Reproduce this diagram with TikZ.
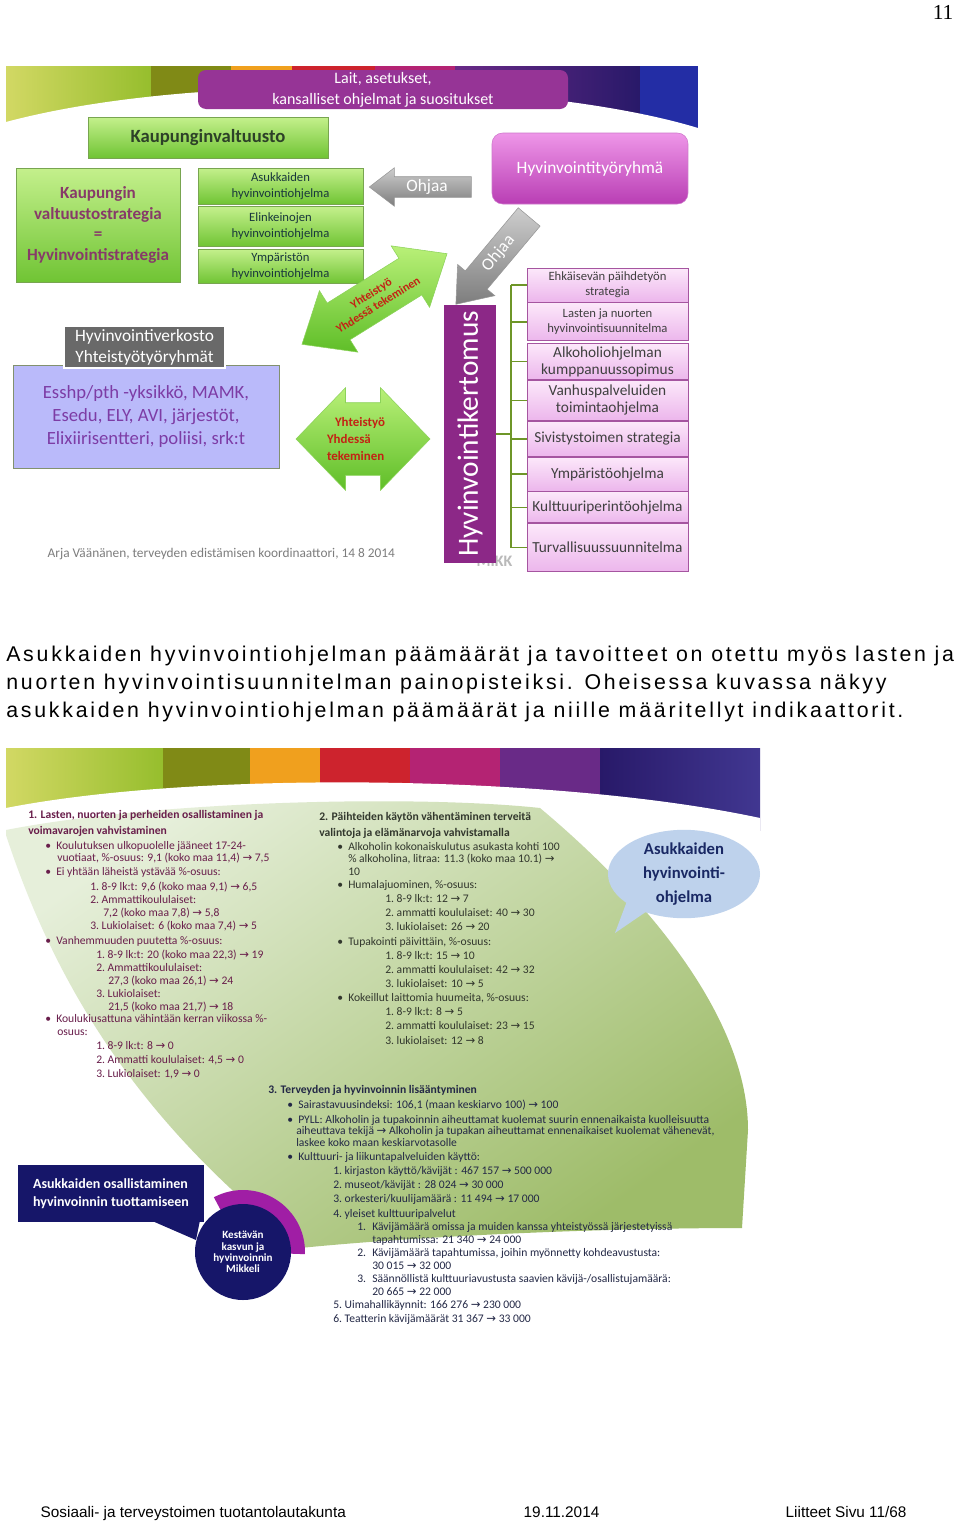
\documentclass[tikz,border=0pt]{standalone}
\usepackage{fontspec}
\setmainfont{Carlito}
\newfontfamily\parfnt[LetterSpace=13]{Liberation Sans}
\newfontfamily\arialfnt{Liberation Sans}
\newfontfamily\timesfnt{Liberation Serif}
\newfontfamily\symfnt{DejaVu Sans}
\usetikzlibrary{positioning,shapes.arrows,shapes.geometric,calc}

\definecolor{laitPurple}{RGB}{150,52,150}
\definecolor{boxTop}{RGB}{196,240,140}
\definecolor{boxBot}{RGB}{112,196,52}
\definecolor{boxLine}{RGB}{120,165,80}
\definecolor{councilText}{RGB}{45,65,40}
\definecolor{strategyText}{RGB}{135,58,105}
\definecolor{progText}{RGB}{25,55,60}
\definecolor{hvtTop}{RGB}{238,150,232}
\definecolor{hvtBot}{RGB}{185,62,180}
\definecolor{barPurple}{RGB}{140,40,135}
\definecolor{pinkTop}{RGB}{252,232,250}
\definecolor{pinkBot}{RGB}{236,182,236}
\definecolor{pinkLine}{RGB}{165,85,160}
\definecolor{treeGreen}{RGB}{110,150,40}
\definecolor{grayTop}{RGB}{205,205,205}
\definecolor{grayBot}{RGB}{125,125,125}
\definecolor{coopTop}{RGB}{185,240,120}
\definecolor{coopBot}{RGB}{95,190,40}
\definecolor{coopLine}{RGB}{140,210,90}
\definecolor{coopRed}{RGB}{195,35,20}
\definecolor{netGray}{RGB}{105,105,105}
\definecolor{lavFill}{RGB}{186,186,250}
\definecolor{lavLine}{RGB}{130,145,110}
\definecolor{lavText}{RGB}{125,60,165}
\definecolor{creditGray}{RGB}{125,125,125}
\definecolor{bandYellow}{RGB}{210,216,100}
\definecolor{bandLime}{RGB}{150,190,45}
\definecolor{bandOlive}{RGB}{128,138,22}
\definecolor{bandOrange}{RGB}{240,160,30}
\definecolor{bandRed}{RGB}{205,35,45}
\definecolor{bandMagenta}{RGB}{180,35,115}
\definecolor{bandPurple}{RGB}{105,42,135}
\definecolor{bandNavy}{RGB}{40,25,105}
\definecolor{bandBlue}{RGB}{35,45,165}
\definecolor{bandViolet}{RGB}{65,55,145}
\definecolor{fanPale}{RGB}{230,239,218}
\definecolor{fanGreen}{RGB}{158,188,105}
\definecolor{bubbleBlue}{RGB}{190,210,236}
\definecolor{navyText}{RGB}{25,40,100}
\definecolor{navyBox}{RGB}{22,22,105}
\definecolor{ringPurple}{RGB}{160,30,165}
\definecolor{goalOne}{RGB}{105,30,75}
\definecolor{goalTwo}{RGB}{50,55,45}
\definecolor{goalThree}{RGB}{35,40,70}

\newlength{\ux}\setlength{\ux}{0.75pt}
\newcommand{\goesto}{{\symfnt\char"2192}}
\newcommand{\bul}[2]{\hspace*{#1\ux}\makebox[11\ux][l]{\textbullet}#2}
\newcommand{\ind}[2]{\hspace*{#1\ux}#2}

\begin{document}
\begin{tikzpicture}[x=0.75pt, y=-0.75pt,
  greenbox/.style={draw=boxLine, top color=boxTop, bottom color=boxBot, align=center, inner sep=0pt},
  progbox/.style={greenbox, minimum width=165*\ux, minimum height=36*\ux, text=progText,
                  font=\fontsize{9.5}{12}\selectfont},
  pinkbox/.style={draw=pinkLine, line width=0.6pt, top color=pinkTop, bottom color=pinkBot,
                  minimum width=161*\ux, inner sep=0pt, align=center, text=black!75,
                  font=\fontsize{11.5}{12.75}\selectfont},
  smallpink/.style={font=\fontsize{9.5}{11.5}\selectfont},
  ohjaa/.style={single arrow, top color=grayTop, bottom color=grayBot, draw=grayBot!80,
                text=white, font=\fontsize{13}{13}\selectfont, text height=9pt, text depth=2.5pt,
                inner xsep=2pt, single arrow tip angle=75},
  coop/.style={double arrow, top color=coopTop, bottom color=coopBot, draw=coopLine,
               inner xsep=0pt},
  cooptext/.style={text=coopRed, font=\bfseries\fontsize{9}{10}\selectfont, inner sep=0pt},
  tree/.style={treeGreen, line width=1.2pt},
  goal/.style={anchor=north west, inner sep=0pt, align=left, font=\fontsize{8.7}{10.5}\selectfont},
  parline/.style={anchor=base west, inner sep=0pt, font=\parfnt\fontsize{16}{21}\selectfont},
  footer/.style={anchor=base west, font=\arialfnt\fontsize{11.5}{11.5}\selectfont}
]
\useasboundingbox (0,0) rectangle (960,1524);
\fill[white] (0,0) rectangle (960,1524);

\node[anchor=base east, font=\timesfnt\fontsize{16}{16}\selectfont] (pagenum) at (958,19) {11};

% upper slide: background band
\begin{scope}
  \clip (6,66) rectangle (698,568);
  \shade[left color=bandYellow, right color=bandLime] (6,66) rectangle (151,140);
  \fill[bandOlive] (151,66) rectangle (231,140);
  \fill[bandOrange] (231,66) rectangle (292,140);
  \fill[bandRed] (292,66) rectangle (375,140);
  \fill[bandMagenta] (375,66) rectangle (455,140);
  \shade[left color=bandPurple, right color=bandNavy] (455,66) rectangle (640,140);
  \fill[bandBlue] (640,66) rectangle (698,140);
  \fill[white] (6,122) .. controls (200,70) and (540,80) .. (698,128) -- (698,568) -- (6,568) -- cycle;
\end{scope}

\node[fill=laitPurple, rounded corners=6pt, minimum width=370*\ux, minimum height=39*\ux,
      inner sep=0pt, align=center, text=white, font=\fontsize{12}{15.75}\selectfont]
      (lait) at (383,89.5) {Lait, asetukset,\\kansalliset ohjelmat ja suositukset};

\node[greenbox, minimum width=240*\ux, minimum height=41*\ux, text=councilText,
      font=\bfseries\fontsize{14}{16}\selectfont] (valtuusto) at (208,137.5) {Kaupunginvaltuusto};

\node[greenbox, minimum width=164*\ux, minimum height=114*\ux, text=strategyText,
      font=\bfseries\fontsize{12.8}{15.5}\selectfont] (strategia) at (98,225)
      {Kaupungin\\valtuustostrategia\\=\\Hyvinvointistrategia};

\node[progbox] (asukas) at (280.5,186) {Asukkaiden\\hyvinvointiohjelma};
\node[progbox, minimum height=40*\ux, below=1.5pt of asukas] (elinkeino) {Elinkeinojen\\hyvinvointiohjelma};
\node[progbox, minimum height=34*\ux, below=1.5pt of elinkeino] (ymparisto) {Ympäristön\\hyvinvointiohjelma};

\node[rounded corners=8pt, top color=hvtTop, bottom color=hvtBot, draw=hvtBot!70,
      minimum width=196*\ux, minimum height=71*\ux, inner sep=0pt, text=white,
      font=\fontsize{13}{15}\selectfont] (ryhma) at (590,168.5) {Hyvinvointityöryhmä};

\node[ohjaa, minimum height=102*\ux, inner ysep=1.75pt, single arrow head extend=6.75pt,
      shape border rotate=180] (ohjaa1) at (427,187) {Ohjaa};
\node[ohjaa, minimum height=114*\ux, inner ysep=4.75pt, single arrow head extend=7.5pt,
      shape border rotate=180, rotate=50] (ohjaa2) at (498.5,253.5) {Ohjaa};

\node[coop, minimum height=171*\ux, inner ysep=16pt, double arrow head extend=11pt,
      double arrow tip angle=80, rotate=32] (coop1) at (374.5,299) {};
\node[cooptext, align=center, rotate=32] (coop1txt) at (coop1.center) {Yhteistyö\\Yhdessä tekeminen};

\node[coop, minimum height=134*\ux, inner ysep=27pt, double arrow head extend=11.25pt,
      double arrow tip angle=92] (coop2) at (363,439) {};
\node[cooptext, align=left, font=\bfseries\fontsize{9.7}{12.4}\selectfont]
      (coop2txt) at (356,439) {\hspace*{6pt}Yhteistyö\\Yhdessä\\tekeminen};

\node[fill=lavFill, draw=lavLine, minimum width=266*\ux, minimum height=103*\ux, inner sep=0pt,
      align=center, text=lavText, font=\fontsize{14}{17.25}\selectfont] (kumppanit) at (146,416.5)
      {Esshp/pth -yksikkö, MAMK,\\Esedu, ELY, AVI, järjestöt,\\Elixiirisentteri, poliisi, srk:t};
\node[fill=netGray, draw=white, line width=1.5pt, minimum width=161*\ux, minimum height=42*\ux,
      inner sep=0pt, align=center, text=white, font=\fontsize{13}{15.75}\selectfont]
      (verkosto) at (144.5,347) {Hyvinvointiverkosto\\Yhteistyötyöryhmät};

\node[anchor=base west, text=creditGray, font=\fontsize{10}{10}\selectfont] (credit) at (43,557)
      {Arja Väänänen, terveyden edistämisen koordinaattori, 14 8 2014};

\node[anchor=base west, text=gray!55, font=\bfseries\fontsize{12}{12}\selectfont] (logo) at (472,566) {MIKK};

% Hyvinvointikertomus and its programmes
\node[rotate=90, fill=barPurple, minimum width=258*\ux, minimum height=52*\ux, inner sep=0pt,
      text=white, font=\fontsize{22}{22}\selectfont] (kertomus) at (470,434) {Hyvinvointikertomus};

\node[pinkbox, smallpink, minimum height=34*\ux] (ehkaiseva) at (607.5,285) {Ehkäisevän päihdetyön\\strategia};
\node[pinkbox, smallpink, minimum height=38*\ux, below=0pt of ehkaiseva] (lasten) {Lasten ja nuorten\\hyvinvointisuunnitelma};
\node[pinkbox, minimum height=36*\ux, below=1.5pt of lasten] (alkoholi) {Alkoholiohjelman\\kumppanuussopimus};
\node[pinkbox, minimum height=40*\ux, below=0pt of alkoholi] (vanhus) {Vanhuspalveluiden\\toimintaohjelma};
\node[pinkbox, minimum height=35*\ux, below=0pt of vanhus] (sivistys) {Sivistystoimen strategia};
\node[pinkbox, minimum height=34*\ux, below=0pt of sivistys] (ymparistoohj) {Ympäristöohjelma};
\node[pinkbox, minimum height=31*\ux, below=0pt of ymparistoohj] (kulttuuri) {Kulttuuriperintöohjelma};
\node[pinkbox, minimum height=48*\ux, below=0pt of kulttuuri] (turva) {Turvallisuussuunnitelma};

\coordinate (trunk) at (511,300);
\draw[tree] (kertomus.south) -- (kertomus.south -| trunk);
\draw[tree] (ehkaiseva.west -| trunk) -- (turva.west -| trunk);
\draw[tree] (ehkaiseva.west -| trunk) -- (ehkaiseva.west);
\draw[tree] (lasten.west -| trunk) -- (lasten.west);
\draw[tree] (alkoholi.west -| trunk) -- (alkoholi.west);
\draw[tree] (vanhus.west -| trunk) -- (vanhus.west);
\draw[tree] (sivistys.west -| trunk) -- (sivistys.west);
\draw[tree] (ymparistoohj.west -| trunk) -- (ymparistoohj.west);
\draw[tree] (kulttuuri.west -| trunk) -- (kulttuuri.west);
\draw[tree] (turva.west -| trunk) -- (turva.west);

% paragraph between the slides
\node[parline] (par1) at (6,661)
      {Asukkaiden hyvinvointiohjelman päämäärät ja tavoitteet on otettu myös lasten ja};
\node[parline] (par2) at (6,689)
      {nuorten hyvinvointisuunnitelman painopisteiksi. Oheisessa kuvassa näkyy};
\node[parline] (par3) at (6,717)
      {asukkaiden hyvinvointiohjelman päämäärät ja niille määritellyt indikaattorit.};

% lower slide: band and green fan
\begin{scope}
  \clip (6,748) rectangle (760,1330);
  \shade[left color=bandYellow, right color=bandLime] (6,748) rectangle (163,830);
  \fill[bandOlive] (163,748) rectangle (250,830);
  \fill[bandOrange] (250,748) rectangle (320,830);
  \fill[bandRed] (320,748) rectangle (410,830);
  \fill[bandMagenta] (410,748) rectangle (500,830);
  \fill[bandPurple] (500,748) rectangle (600,830);
  \shade[left color=bandNavy, right color=bandViolet] (600,748) rectangle (760,830);
  \fill[white] (6,808) .. controls (200,770) and (560,775) .. (760,818) -- (760,1330) -- (6,1330) -- cycle;
  \shade[top color=fanPale, bottom color=fanGreen, shading angle=35]
    (6,830) .. controls (160,800) and (420,795) .. (540,808)
    .. controls (650,900) and (748,1020) .. (748,1130) -- (742,1228)
    .. controls (600,1228) and (420,1236) .. (300,1248)
    .. controls (150,1130) and (60,1000) .. (6,835) -- cycle;
\end{scope}

\node[goal, text=goalOne] (goal1) at (28,810) {%
{\bfseries 1. Lasten, nuorten ja perheiden osallistaminen ja}\\[1.5pt]
{\bfseries voimavarojen vahvistaminen}\\[0.75pt]
\bul{17}{Koulutuksen ulkopuolelle jääneet 17-24-}\\[-1.5pt]
\ind{29}{vuotiaat, \%-osuus: 9,1 (koko maa 11,4) \goesto{} 7,5}\\
\bul{17}{Ei yhtään läheistä ystävää \%-osuus:}\\[0.75pt]
\ind{62}{1.\ 8-9 lk:t: 9,6 (koko maa 9,1) \goesto{} 6,5}\\[-0.75pt]
\ind{62}{2.\ Ammattikoululaiset:}\\[-0.75pt]
\ind{75}{7,2 (koko maa 7,8) \goesto{} 5,8}\\[-0.75pt]
\ind{62}{3.\ Lukiolaiset: 6 (koko maa 7,4) \goesto{} 5}\\[0.75pt]
\bul{17}{Vanhemmuuden puutetta \%-osuus:}\\
\ind{68}{1.\ 8-9 lk:t: 20 (koko maa 22,3) \goesto{} 19}\\[-0.75pt]
\ind{68}{2.\ Ammattikoululaiset:}\\[-0.75pt]
\ind{80}{27,3 (koko maa 26,1) \goesto{} 24}\\[-0.75pt]
\ind{68}{3.\ Lukiolaiset:}\\[-0.75pt]
\ind{80}{21,5 (koko maa 21,7) \goesto{} 18}\\[-1.5pt]
\bul{17}{Koulukiusattuna vähintään kerran viikossa \%-}\\[-0.75pt]
\ind{29}{osuus:}\\
\ind{68}{1.\ 8-9 lk:t: 8 \goesto{} 0}\\
\ind{68}{2.\ Ammatti koululaiset: 4,5 \goesto{} 0}\\
\ind{68}{3.\ Lukiolaiset: 1,9 \goesto{} 0}};

\node[goal, text=goalTwo] (goal2) at (319,812) {%
{\bfseries 2. Päihteiden käytön vähentäminen terveitä}\\[1.5pt]
{\bfseries valintoja ja elämänarvoja vahvistamalla}\\
\bul{18}{Alkoholin kokonaiskulutus asukasta kohti 100}\\[-1.5pt]
\ind{29}{\% alkoholina, litraa: 11.3 (koko maa 10.1) \goesto}\\[-0.75pt]
\ind{29}{10}\\[-0.75pt]
\bul{18}{Humalajuominen, \%-osuus:}\\
\ind{66}{1.\ 8-9 lk:t: 12 \goesto{} 7}\\
\ind{66}{2.\ ammatti koululaiset: 40 \goesto{} 30}\\
\ind{66}{3.\ lukiolaiset: 26 \goesto{} 20}\\[0.75pt]
\bul{18}{Tupakointi päivittäin, \%-osuus:}\\
\ind{66}{1.\ 8-9 lk:t: 15 \goesto{} 10}\\
\ind{66}{2.\ ammatti koululaiset: 42 \goesto{} 32}\\
\ind{66}{3.\ lukiolaiset: 10 \goesto{} 5}\\
\bul{18}{Kokeillut laittomia huumeita, \%-osuus:}\\
\ind{66}{1.\ 8-9 lk:t: 8 \goesto{} 5}\\
\ind{66}{2.\ ammatti koululaiset: 23 \goesto{} 15}\\[0.75pt]
\ind{66}{3.\ lukiolaiset: 12 \goesto{} 8}};

\node[goal, text=goalThree] (goal3) at (268,1085) {%
{\bfseries 3. Terveyden ja hyvinvoinnin lisääntyminen}\\[0.75pt]
\bul{19}{Sairastavuusindeksi: 106,1 (maan keskiarvo 100) \goesto{} 100}\\[0.75pt]
\bul{19}{PYLL: Alkoholin ja tupakoinnin aiheuttamat kuolemat suurin ennenaikaista kuolleisuutta}\\[-2.25pt]
\ind{28}{aiheuttava tekijä \goesto{} Alkoholin ja tupakan aiheuttamat ennenaikaiset kuolemat vähenevät,}\\[-1.5pt]
\ind{28}{laskee koko maan keskiarvotasolle}\\
\bul{19}{Kulttuuri- ja liikuntapalveluiden käyttö:}\\
\ind{65}{1.\ kirjaston käyttö/kävijät : 467 157 \goesto{} 500 000}\\
\ind{65}{2.\ museot/kävijät : 28 024 \goesto{} 30 000}\\
\ind{65}{3.\ orkesteri/kuulijamäärä : 11 494 \goesto{} 17 000}\\[0.75pt]
\ind{65}{4.\ yleiset kulttuuripalvelut}\\[-0.75pt]
\ind{89}{\makebox[15\ux][l]{1.}Kävijämäärä omissa ja muiden kanssa yhteistyössä järjestetyissä}\\[-0.75pt]
\ind{104}{tapahtumissa: 21 340 \goesto{} 24 000}\\[-0.75pt]
\ind{89}{\makebox[15\ux][l]{2.}Kävijämäärä tapahtumissa, joihin myönnetty kohdeavustusta:}\\[-0.75pt]
\ind{104}{30 015 \goesto{} 32 000}\\[-0.75pt]
\ind{89}{\makebox[15\ux][l]{3.}Säännöllistä kulttuuriavustusta saavien kävijä-/osallistujamäärä:}\\[-0.75pt]
\ind{104}{20 665 \goesto{} 22 000}\\[-0.75pt]
\ind{65}{5.\ Uimahallikäynnit: 166 276 \goesto{} 230 000}\\
\ind{65}{6.\ Teatterin kävijämäärät 31 367 \goesto{} 33 000}};

% speech bubble, upper right
\fill[bubbleBlue] (630,893) -- (656,905) -- (615,933) -- cycle;
\node[ellipse, fill=bubbleBlue, minimum width=152*\ux, minimum height=80*\ux, inner sep=0pt,
      align=center, text=navyText, font=\bfseries\fontsize{12.5}{18}\selectfont]
      (ohjelma) at (684,874) {Asukkaiden\\hyvinvointi-\\ohjelma};

% navy box and circle, lower left
\fill[navyBox] (150,1220) -- (200,1220) -- (196,1240) -- cycle;
\node[fill=navyBox, minimum width=186*\ux, minimum height=57*\ux, inner sep=0pt, align=left,
      text=white, font=\bfseries\fontsize{10.5}{13.5}\selectfont]
      (osallistaminen) at (111,1193.5) {Asukkaiden osallistaminen\\hyvinvoinnin tuottamiseen};
\fill[ringPurple] (243,1252) -- ++(2:62) arc[start angle=2, end angle=-118, radius=62] -- cycle;
\node[circle, fill=navyBox, minimum size=96*\ux, inner sep=0pt, align=center, text=white,
      font=\bfseries\fontsize{8.3}{8.4}\selectfont] (mikkeli) at (243,1252)
      {Kestävän\\kasvun ja\\hyvinvoinnin\\Mikkeli};

% footer
\node[footer] (foot1) at (36,1517.5) {Sosiaali- ja terveystoimen tuotantolautakunta};
\node[footer] (foot2) at (519,1517.5) {19.11.2014};
\node[footer] (foot3) at (781,1517.5) {Liitteet Sivu 11/68};
\end{tikzpicture}
\end{document}
